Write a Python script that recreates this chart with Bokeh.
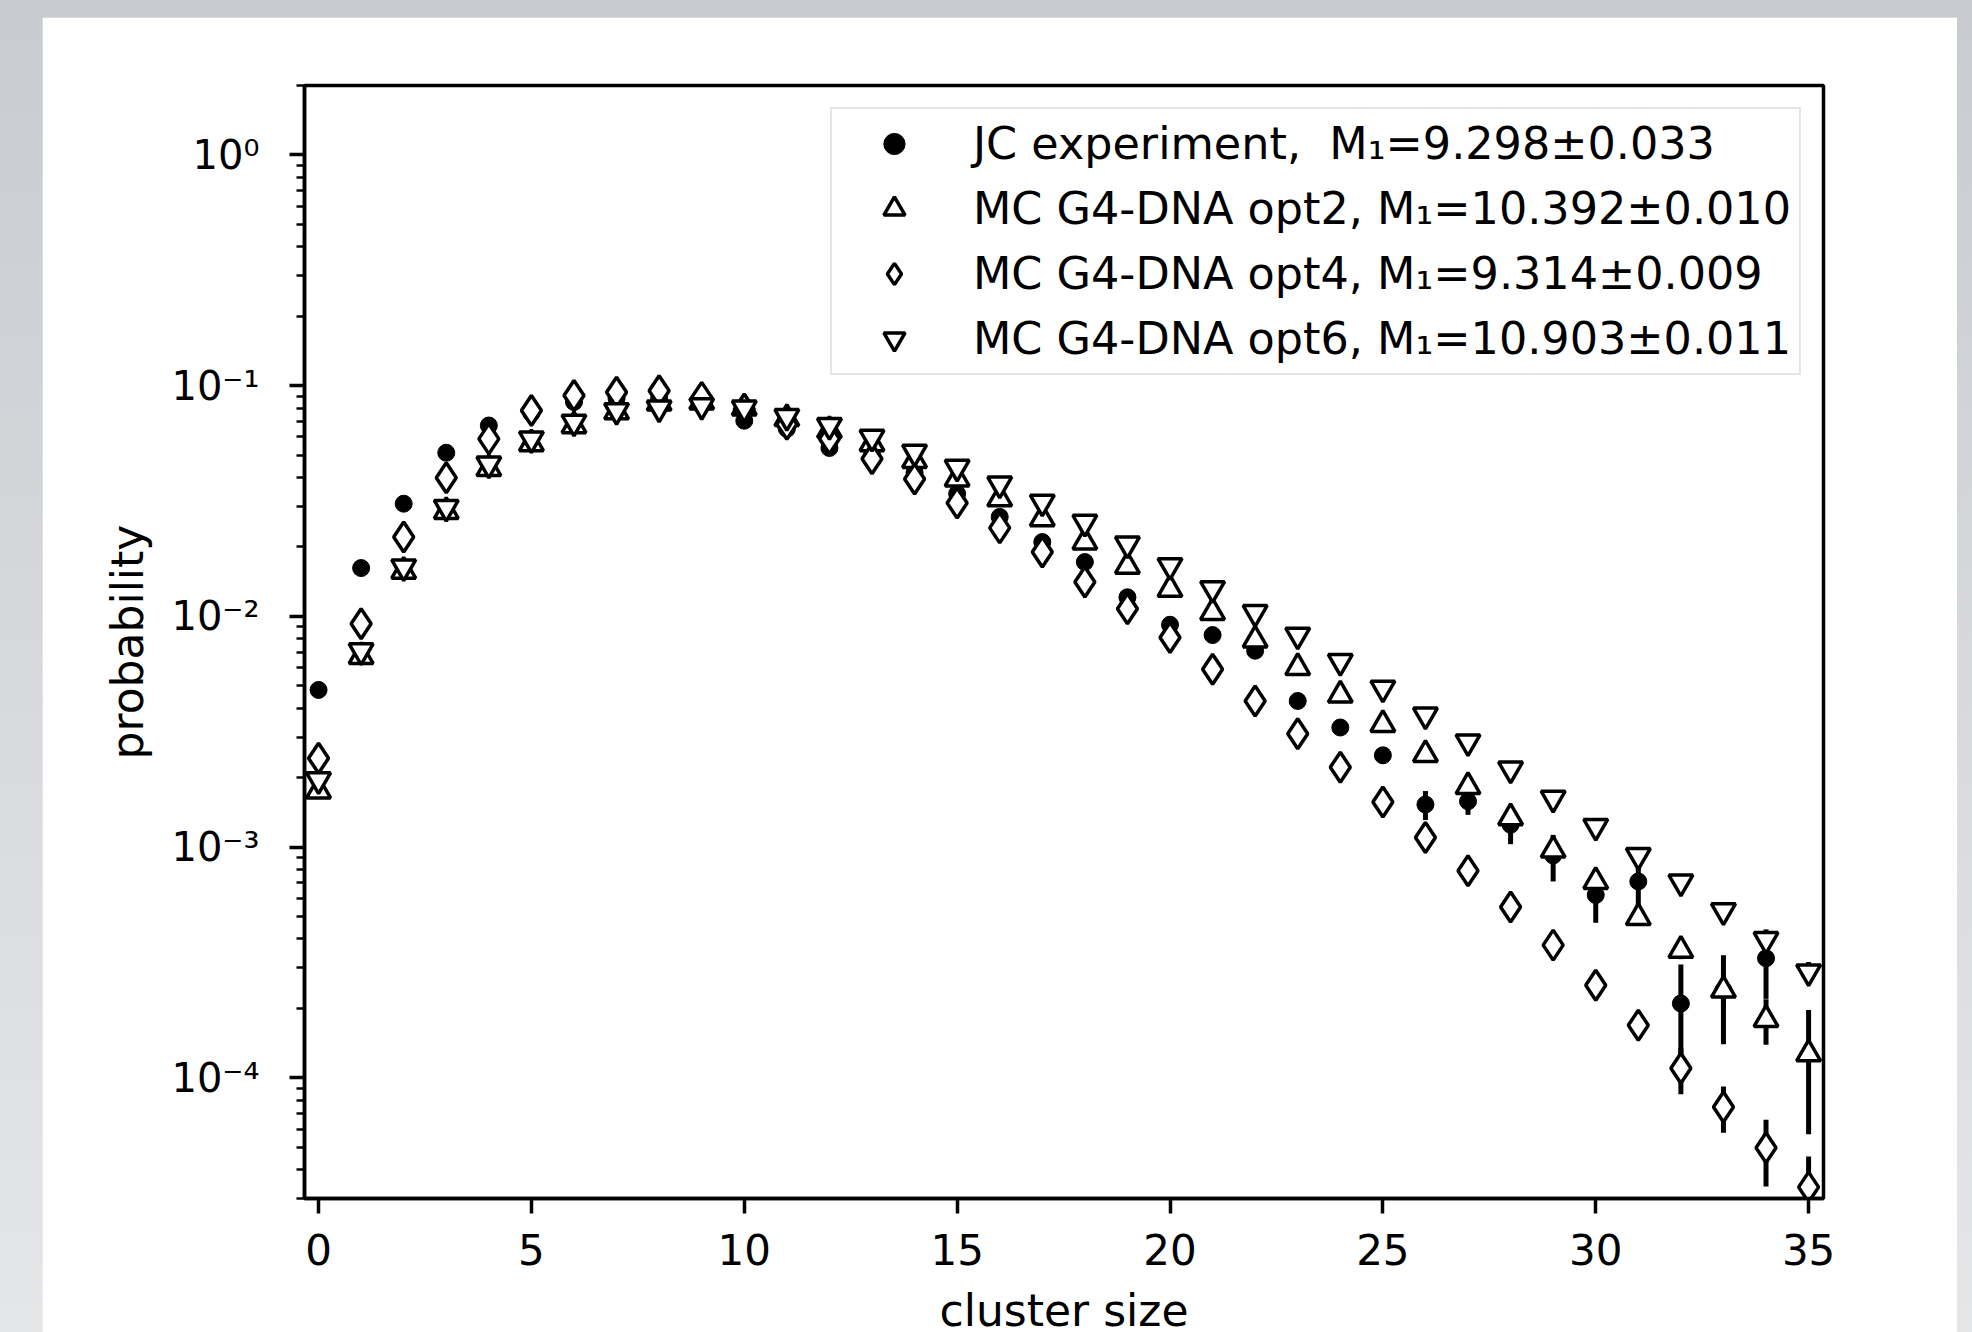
from bokeh.plotting import figure
from bokeh.models import (ColumnDataSource, Legend, LegendItem, LogTicker,
                          SingleIntervalTicker, CustomJSTickFormatter, Range1d)
from bokeh.layouts import column
from bokeh.embed import file_html
from bokeh.resources import INLINE

# ---------------- data ----------------
cluster_size = list(range(36))
jc_size = list(range(35))

jc_prob = [0.0048, 0.0162, 0.0308, 0.0512, 0.0672, 0.076, 0.085, 0.088, 0.088, 0.082,
           0.0705, 0.065, 0.0537, 0.050, 0.042, 0.034, 0.027, 0.021, 0.0172, 0.0121,
           0.0092, 0.0083, 0.0071, 0.0043, 0.0033, 0.0025, 0.00153, 0.00158, 0.00125, 0.00092,
           0.00062, 0.00071, 0.00021, 0.00024, 0.00033]
jc_err = [0, 0, 0, 0, 0, 0, 0, 0, 0, 0,
          0, 0, 0, 0, 0, 0, 0, 0, 0, 0,
          0.0002, 0.0002, 0.0002, 0.0002, 0.0002, 0.0002, 0.00022, 0.0002, 0.00022, 0.00021,
          0.00015, 0.00018, 0.0001, 0.0001, 0.00011]

opt2_prob = [0.00175, 0.0067, 0.0157, 0.0285, 0.0437, 0.056, 0.067, 0.077, 0.084, 0.085,
             0.080, 0.072, 0.064, 0.056, 0.0474, 0.0394, 0.0323, 0.0265, 0.0210, 0.0165,
             0.0131, 0.0104, 0.0079, 0.0060, 0.00456, 0.0034, 0.00252, 0.00183, 0.00134, 0.00097,
             0.00071, 0.000495, 0.000357, 0.00024, 0.000179, 0.000127]
opt2_err = [0, 0, 0, 0, 0, 0, 0, 0, 0, 0,
            0, 0, 0, 0, 0, 0, 0, 0, 0, 0,
            0, 0, 0, 0, 0, 0, 0, 0, 0, 0,
            0.00004, 0.00003, 0.00003, 0.00004, 0.00004, 0.00007]

opt4_prob = [0.00243, 0.0093, 0.0221, 0.0399, 0.0588, 0.0780, 0.0906, 0.0936, 0.0950, 0.089,
             0.079, 0.068, 0.0589, 0.0482, 0.0394, 0.0310, 0.0242, 0.0190, 0.0141, 0.0108,
             0.0081, 0.0059, 0.0043, 0.0031, 0.00222, 0.00157, 0.00110, 0.00079, 0.00055, 0.000376,
             0.000252, 0.000169, 0.000110, 0.0000748, 0.0000498, 0.0000336]
opt4_err = [0, 0, 0, 0, 0, 0, 0, 0, 0, 0,
            0, 0, 0, 0, 0, 0, 0, 0, 0, 0,
            0, 0, 0, 0, 0, 0, 0, 0, 0, 0.00001,
            0.00001, 0.000012, 0.000025, 0.000017, 0.000016, 0.000012]

opt6_prob = [0.00196, 0.0071, 0.0164, 0.0297, 0.0458, 0.0588, 0.0695, 0.078, 0.080, 0.082,
             0.080, 0.0735, 0.0672, 0.0598, 0.0515, 0.0443, 0.0375, 0.0313, 0.0256, 0.0206,
             0.0166, 0.0132, 0.0104, 0.0083, 0.00638, 0.00489, 0.00374, 0.00286, 0.00218, 0.00163,
             0.00123, 0.00092, 0.000706, 0.00053, 0.000398, 0.000288]
opt6_err = [0, 0, 0, 0, 0, 0, 0, 0, 0, 0,
            0, 0, 0, 0, 0, 0, 0, 0, 0, 0,
            0, 0, 0, 0, 0, 0, 0, 0, 0, 0,
            0, 0, 0, 0, 0.00002, 0.00003]

labels = ["JC experiment,  M\u2081=9.298\u00b10.033",
          "MC G4-DNA opt2, M\u2081=10.392\u00b10.010",
          "MC G4-DNA opt4, M\u2081=9.314\u00b10.009",
          "MC G4-DNA opt6, M\u2081=10.903\u00b10.011"]

x_ticks_interval = 5
FONT = "DejaVu Sans"

# ---------------- figure ----------------
p = figure(x_range=Range1d(-0.33, 35.35), y_range=Range1d(3e-5, 2.0),
           y_axis_type="log",
           frame_width=1519, frame_height=1113,
           min_border_left=262, min_border_right=134,
           min_border_top=68, min_border_bottom=134,
           output_backend="svg", toolbar_location=None,
           background_fill_color="white", border_fill_color="white",
           outline_line_color="black", outline_line_width=3.5)
p.margin = (17, 15, 0, 42)

p.xgrid.grid_line_color = None
p.ygrid.grid_line_color = None

# x axis
p.xaxis.ticker = SingleIntervalTicker(interval=x_ticks_interval, num_minor_ticks=0)
p.xaxis.axis_label = "cluster size"
# y axis
p.yaxis.ticker = LogTicker(num_minor_ticks=10)
p.yaxis.formatter = CustomJSTickFormatter(code=r"""
const e = Math.round(Math.log10(tick));
const m = {"-": "\u207b", "0": "\u2070", "1": "\u00b9", "2": "\u00b2", "3": "\u00b3",
           "4": "\u2074", "5": "\u2075", "6": "\u2076", "7": "\u2077", "8": "\u2078", "9": "\u2079"};
return "10" + String(e).split("").map(c => m[c]).join("");
""")
p.yaxis.axis_label = "probability"

for ax in (p.xaxis[0], p.yaxis[0]):
    ax.axis_line_color = "black"
    ax.axis_line_width = 3.5
    ax.major_tick_line_color = "black"
    ax.major_tick_line_width = 3.5
    ax.minor_tick_line_color = "black"
    ax.minor_tick_line_width = 2.6
    ax.major_tick_in = 0
    ax.major_tick_out = 15
    ax.minor_tick_in = 0
    ax.minor_tick_out = 8
    ax.major_label_text_font = FONT
    ax.major_label_text_color = "black"
    ax.axis_label_text_font = FONT
    ax.axis_label_text_font_style = "normal"
    ax.axis_label_text_font_size = "44px"
    ax.axis_label_text_color = "black"

p.xaxis.major_label_text_font_size = "42px"
p.xaxis.major_label_standoff = 20
p.xaxis.axis_label_standoff = 17
p.yaxis.major_label_text_font_size = "40px"
p.yaxis.major_label_standoff = 30
p.yaxis.axis_label_standoff = 15

# ---------------- series ----------------
def add_series(xs, ys, errs, marker, size, fill, lw):
    src = ColumnDataSource(dict(
        x=xs, y=ys,
        lo=[v - e for v, e in zip(ys, errs)],
        hi=[v + e for v, e in zip(ys, errs)]))
    p.segment(x0="x", y0="lo", x1="x", y1="hi", source=src,
              line_color="black", line_width=5)
    r = p.scatter(x="x", y="y", source=src, marker=marker, size=size,
                  fill_color=fill, line_color="black", line_width=lw)
    return r

r_jc = add_series(jc_size, jc_prob, jc_err, "circle", 17, "black", 1)
r_o2 = add_series(cluster_size, opt2_prob, opt2_err, "triangle", 24, "white", 3.5)
r_o4 = add_series(cluster_size, opt4_prob, opt4_err, "diamond", 30, "white", 3.5)
r_o6 = add_series(cluster_size, opt6_prob, opt6_err, "inverted_triangle", 24, "white", 3.5)

# legend-only vertical error-bar sample (no data of its own)
bar_src = ColumnDataSource(dict(x=[]))
r_bar = p.vspan(x="x", source=bar_src, line_color="black", line_width=4)

legend = Legend(items=[LegendItem(label=labels[0], renderers=[r_bar, r_jc]),
                       LegendItem(label=labels[1], renderers=[r_bar, r_o2]),
                       LegendItem(label=labels[2], renderers=[r_bar, r_o4]),
                       LegendItem(label=labels[3], renderers=[r_bar, r_o6])],
                location="top_right", margin=22, padding=8,
                spacing=12, glyph_width=108, glyph_height=53, label_height=53,
                label_standoff=25,
                label_text_font=FONT, label_text_font_size="44.5px",
                label_text_color="black",
                border_line_color="#cccccc", border_line_width=2,
                background_fill_color="white", background_fill_alpha=0.8)
p.add_layout(legend)

layout = column(p, styles={"background": "linear-gradient(180deg, #c8cbd0 0%, #e5e6e8 100%)"})

open("out.html", "w").write(file_html(layout, INLINE))
